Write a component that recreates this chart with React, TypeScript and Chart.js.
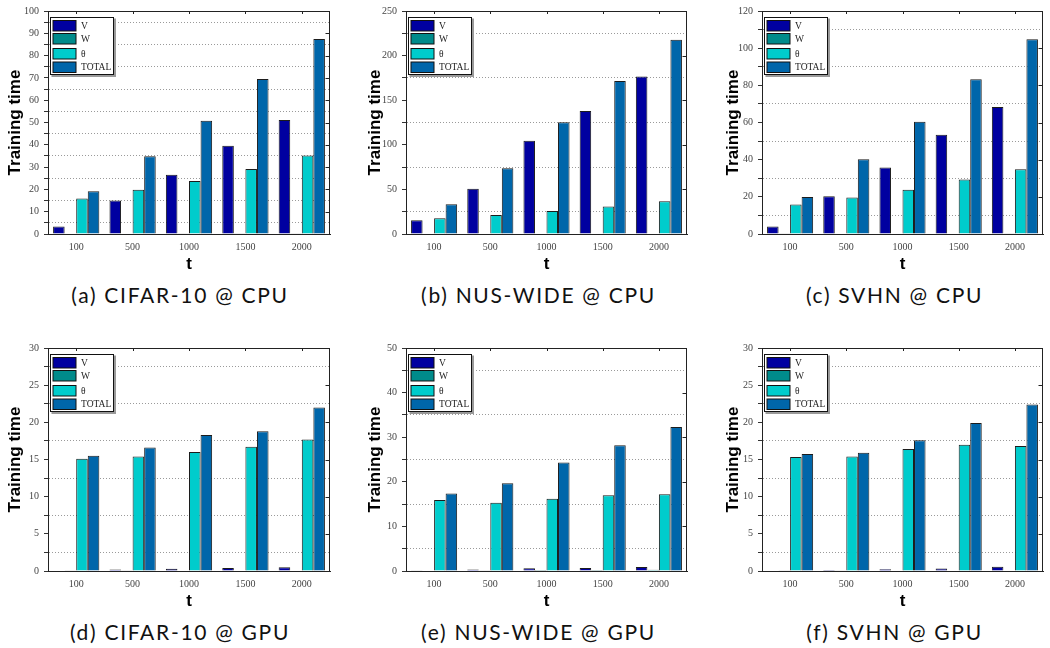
import React, { useEffect, useRef } from "react";
import { Chart, registerables } from "chart.js";

Chart.register(...registerables);

// ---------- data ----------
const tLabels = ["100", "500", "1000", "1500", "2000"];
const seriesNames = ["V", "W", "θ", "TOTAL"];
const seriesColors = ["#0000A0", "#008B8B", "#00CCCC", "#0066AA"];

const cifarCpuV = [3.4, 15.0, 26.6, 39.6, 51.1];
const cifarCpuW = [0.2, 0.2, 0.3, 0.3, 0.3];
const cifarCpuTheta = [15.9, 19.8, 23.8, 29.1, 35.2];
const cifarCpuTotal = [19.2, 34.9, 50.8, 69.5, 87.4];

const nusCpuV = [15.4, 50.7, 104.6, 138.0, 176.6];
const nusCpuW = [0.5, 0.5, 0.6, 0.6, 0.7];
const nusCpuTheta = [17.6, 21.3, 25.7, 30.8, 36.7];
const nusCpuTotal = [33.4, 73.8, 125.2, 171.4, 217.7];

const svhnCpuV = [4.0, 20.3, 35.8, 53.4, 68.4];
const svhnCpuW = [0.2, 0.3, 0.3, 0.3, 0.4];
const svhnCpuTheta = [15.9, 19.6, 23.8, 29.3, 34.9];
const svhnCpuTotal = [19.9, 40.2, 60.4, 83.3, 104.8];

const cifarGpuV = [0.08, 0.2, 0.3, 0.42, 0.5];
const cifarGpuW = [0.04, 0.05, 0.06, 0.07, 0.08];
const cifarGpuTheta = [15.1, 15.4, 16.0, 16.7, 17.7];
const cifarGpuTotal = [15.5, 16.6, 18.3, 18.8, 22.0];

const nusGpuV = [0.15, 0.35, 0.6, 0.7, 0.9];
const nusGpuW = [0.1, 0.15, 0.2, 0.25, 0.3];
const nusGpuTheta = [15.9, 15.3, 16.2, 17.0, 17.2];
const nusGpuTotal = [17.4, 19.7, 24.3, 28.2, 32.3];

const svhnGpuV = [0.08, 0.15, 0.25, 0.35, 0.57];
const svhnGpuW = [0.04, 0.05, 0.06, 0.07, 0.08];
const svhnGpuTheta = [15.35, 15.4, 16.4, 17.0, 16.8];
const svhnGpuTotal = [15.75, 15.9, 17.6, 19.9, 22.4];

const captions = [
  "(a) CIFAR-10 @ CPU",
  "(b) NUS-WIDE @ CPU",
  "(c) SVHN @ CPU",
  "(d) CIFAR-10 @ GPU",
  "(e) NUS-WIDE @ GPU",
  "(f) SVHN @ GPU",
];
const yMaxes = [100, 250, 120, 30, 50, 30];
const yMajorSteps = [10, 50, 20, 5, 10, 5];
const panelSeries = [
  [cifarCpuV, cifarCpuW, cifarCpuTheta, cifarCpuTotal],
  [nusCpuV, nusCpuW, nusCpuTheta, nusCpuTotal],
  [svhnCpuV, svhnCpuW, svhnCpuTheta, svhnCpuTotal],
  [cifarGpuV, cifarGpuW, cifarGpuTheta, cifarGpuTotal],
  [nusGpuV, nusGpuW, nusGpuTheta, nusGpuTotal],
  [svhnGpuV, svhnGpuW, svhnGpuTheta, svhnGpuTotal],
];

// ---------- layout ----------
const CANVAS_W = 350;
const CANVAS_H = 280;
const colX = [0, 350, 700];
const rowY = [0, 337];
const areaLeft = [48, 56, 62];
const areaRight = [330, 337, 343];
const titleCenterX = [15.5, 25, 33];
const captionCenterX = [180, 538.5, 894.5];
const captionCenterY = 295;
const AREA_TOP = 7;
const AREA_BOTTOM = 234;
const X_SCALE_H = 41;

const SERIF = "'Liberation Serif', 'DejaVu Serif', serif";
const SANS = "'Liberation Sans', Arial, sans-serif";

function isMajor(v: number, major: number) {
  const r = v / major;
  return Math.abs(r - Math.round(r)) < 1e-6;
}

const framePlugin = {
  id: "frameAndLegend",
  afterDatasetsDraw(chart: any, _args: any, opts: any) {
    const { ctx, chartArea: a, scales } = chart;
    const major = opts.major;
    const yMax = opts.yMax;
    ctx.save();
    ctx.strokeStyle = "#222";
    ctx.lineWidth = 1;
    ctx.beginPath();
    const topY = Math.round(a.top) + 0.5;
    const rightX = Math.round(a.right) - 0.5;
    ctx.moveTo(a.left, topY);
    ctx.lineTo(a.right, topY);
    ctx.moveTo(rightX, a.top);
    ctx.lineTo(rightX, a.bottom);
    // right inward ticks at majors
    const ys = scales.y;
    for (let v = 0; v <= yMax + 1e-9; v += major) {
      const py = Math.round(ys.getPixelForValue(v)) + 0.5;
      ctx.moveTo(rightX, py);
      ctx.lineTo(rightX - 4, py);
    }
    // top inward ticks at categories
    const xs = scales.x;
    for (let i = 0; i < tLabels.length; i++) {
      const px = Math.round(xs.getPixelForValue(i)) + 0.5;
      ctx.moveTo(px, a.top);
      ctx.lineTo(px, a.top + 3);
    }
    ctx.stroke();

    // legend
    const lx = Math.round(a.left + 1.5) + 0.5;
    const ly = Math.round(a.top + 6) + 0.5;
    const lw = 63;
    const lh = 57;
    ctx.fillStyle = "#9a9a9a";
    ctx.fillRect(lx + 1, ly + 1, lw + 1.5, lh + 1.5);
    ctx.fillStyle = "#ffffff";
    ctx.fillRect(lx, ly, lw, lh);
    ctx.strokeStyle = "#111";
    ctx.strokeRect(lx, ly, lw, lh);
    const entryOffsets = [8, 21, 36, 49.5];
    ctx.font = `9.5px ${SERIF}`;
    ctx.textBaseline = "middle";
    ctx.textAlign = "left";
    for (let i = 0; i < seriesNames.length; i++) {
      const cy = ly + entryOffsets[i];
      ctx.fillStyle = seriesColors[i];
      ctx.fillRect(lx + 2.5, cy - 5, 23, 10.5);
      ctx.strokeStyle = "#111";
      ctx.strokeRect(lx + 2.5, cy - 5, 23, 10.5);
      ctx.fillStyle = "#222";
      ctx.fillText(seriesNames[i], lx + 30.5, cy + 0.5);
    }
    ctx.restore();
  },
};

function Panel({ index }: { index: number }) {
  const ref = useRef<HTMLCanvasElement>(null);
  const col = index % 3;
  const row = Math.floor(index / 3);

  useEffect(() => {
    const canvas = ref.current;
    if (!canvas) return;
    const major = yMajorSteps[index];
    const yMax = yMaxes[index];
    const left = areaLeft[col];
    const right = areaRight[col];
    const series = panelSeries[index];
    const chart = new Chart(canvas, {
      type: "bar",
      data: {
        labels: tLabels,
        datasets: seriesNames.map((name, i) => ({
          label: name,
          data: series[i],
          backgroundColor: seriesColors[i],
          borderColor: "#1c1c1c",
          borderWidth: 1,
          categoryPercentage: 0.82,
          barPercentage: 1.0,
        })),
      },
      options: {
        animation: false,
        responsive: false,
        devicePixelRatio: 1,
        layout: {
          padding: {
            left: 0,
            right: CANVAS_W - right,
            top: AREA_TOP,
            bottom: CANVAS_H - AREA_BOTTOM - X_SCALE_H,
          },
        },
        plugins: {
          legend: { display: false },
          tooltip: { enabled: false },
          frameAndLegend: { major, yMax },
        } as any,
        scales: {
          x: {
            type: "category",
            offset: true,
            grid: { display: false, drawTicks: false },
            border: { display: true, color: "#222", width: 1 },
            ticks: {
              font: { family: SERIF, size: 10 },
              color: "#444",
              padding: 7,
              maxRotation: 0,
              autoSkip: false,
            },
            title: {
              display: true,
              text: "t",
              font: { family: SANS, size: 17, weight: "bold" },
              color: "#000",
              padding: { top: 0, bottom: 0 },
            },
            afterFit: (scale: any) => {
              scale.height = X_SCALE_H;
            },
          },
          y: {
            min: 0,
            max: yMax,
            grid: {
              color: (ctx: any) =>
                ctx.tick && isMajor(ctx.tick.value, major) ? "rgba(0,0,0,0)" : "#9a9a9a",
              lineWidth: 1,
              drawTicks: true,
              tickLength: 4,
              tickColor: "#333",
              tickBorderDash: [],
            },
            border: { display: true, color: "#222", width: 1, dash: [1, 2] },
            ticks: {
              stepSize: major / 2,
              autoSkip: false,
              font: { family: SERIF, size: 10 },
              color: "#444",
              padding: 5,
              callback: (v: any) => (isMajor(Number(v), major) ? String(v) : ""),
            },
            title: {
              display: true,
              text: "Training time",
              font: { family: SANS, size: 17, weight: "bold" },
              color: "#000",
              padding: { top: titleCenterX[col] - 10.2, bottom: 0 },
            },
            afterFit: (scale: any) => {
              scale.width = left;
            },
          },
        },
      } as any,
      plugins: [framePlugin as any],
    });
    return () => chart.destroy();
  }, [index]);

  return (
    <canvas
      ref={ref}
      width={CANVAS_W}
      height={CANVAS_H}
      style={{
        position: "absolute",
        left: colX[col],
        top: rowY[row],
        width: CANVAS_W,
        height: CANVAS_H,
      }}
    />
  );
}

function Caption({ index }: { index: number }) {
  const col = index % 3;
  const row = Math.floor(index / 3);
  const cy = rowY[row] + captionCenterY;
  return (
    <div
      style={{
        position: "absolute",
        left: captionCenterX[col] - 160,
        width: 320,
        top: cy - 13,
        height: 26,
        lineHeight: "26px",
        textAlign: "center",
        fontFamily: "Lato, 'Open Sans', sans-serif",
        fontSize: 21,
        letterSpacing: "1.7px",
        color: "#111",
        whiteSpace: "nowrap",
      }}
    >
      {captions[index]}
    </div>
  );
}

export default function App() {
  return (
    <div
      style={{
        position: "absolute",
        left: 0,
        top: 0,
        width: 1050,
        height: 648,
        background: "#fff",
        overflow: "hidden",
      }}
    >
      {[0, 1, 2, 3, 4, 5].map((i) => (
        <React.Fragment key={i}>
          <Panel index={i} />
          <Caption index={i} />
        </React.Fragment>
      ))}
    </div>
  );
}
